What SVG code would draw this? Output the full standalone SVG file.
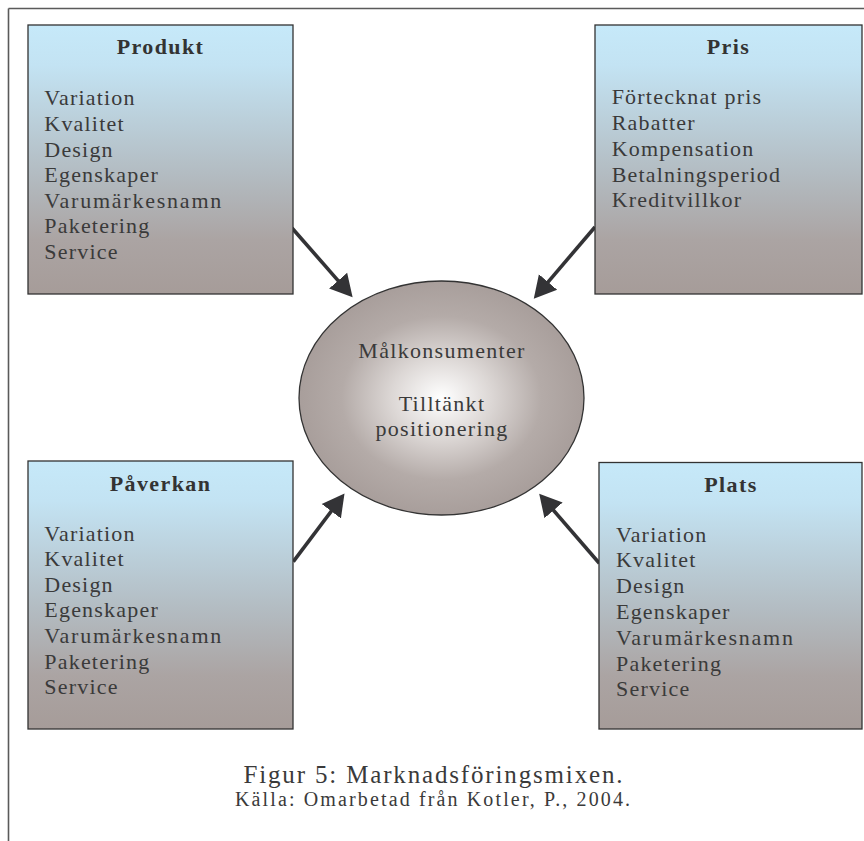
<svg xmlns="http://www.w3.org/2000/svg" width="864" height="841" viewBox="0 0 864 841">
  <defs>
    <linearGradient id="boxFill" x1="0" y1="0" x2="0" y2="1">
      <stop offset="0" stop-color="#c6e9f9"/>
      <stop offset="0.15" stop-color="#c3e3f3"/>
      <stop offset="0.55" stop-color="#b3bcc2"/>
      <stop offset="0.8" stop-color="#aba4a3"/>
      <stop offset="1" stop-color="#a69c99"/>
    </linearGradient>
    <radialGradient id="coreFill" cx="0.5" cy="0.5" r="0.5">
      <stop offset="0" stop-color="#ffffff"/>
      <stop offset="0.35" stop-color="#dcd7d5"/>
      <stop offset="0.7" stop-color="#b4aba8"/>
      <stop offset="1" stop-color="#a89e9b"/>
    </radialGradient>
    <marker id="arrow" markerUnits="userSpaceOnUse" markerWidth="26" markerHeight="26" viewBox="0 -13 26 26" refX="5" refY="0" orient="auto">
      <path d="M0,-12 L22,0 L0,12 z" fill="#333336"/>
    </marker>
  </defs>
  <style>
    .frame { stroke: #5a5a5a; stroke-width: 1.6; fill: none; }
    .box { fill: url(#boxFill); stroke: #333; stroke-width: 1.3; }
    .core { fill: url(#coreFill); stroke: #333; stroke-width: 1.3; }
    .title { font-family: "Liberation Serif", "Times New Roman", serif; font-size: 22px; font-weight: bold; fill: #333; letter-spacing: 1.4px; text-anchor: middle; }
    .item { font-family: "Liberation Serif", "Times New Roman", serif; font-size: 22px; fill: #3a3a3a; letter-spacing: 1.2px; }
    .center { font-family: "Liberation Serif", "Times New Roman", serif; font-size: 22px; fill: #3a3a3a; letter-spacing: 1.3px; text-anchor: middle; }
    .cap1 { font-family: "Liberation Serif", "Times New Roman", serif; font-size: 25px; fill: #3a3a3a; }
    .cap2 { font-family: "Liberation Serif", "Times New Roman", serif; font-size: 20px; fill: #3a3a3a; }
    .link { stroke: #333336; stroke-width: 3.6; fill: none; marker-end: url(#arrow); }
  </style>

  <!-- page frame -->
  <path class="frame" d="M8.5,8.5 H864 M8.5,8.5 V841"/>

  <!-- connectors -->
  <g id="connectors">
    <line class="link" x1="292" y1="228" x2="341.4" y2="284.4"/>
    <line class="link" x1="595" y1="227" x2="544.8" y2="285.8"/>
    <line class="link" x1="293.3" y1="561.7" x2="334.3" y2="507.2"/>
    <line class="link" x1="599.3" y1="563.3" x2="550.3" y2="506.6"/>
  </g>

  <!-- centre: target consumers -->
  <g id="core">
    <ellipse class="core" cx="441.5" cy="398" rx="142.5" ry="117"/>
    <text class="center" x="442" y="357.7">Målkonsumenter</text>
    <text class="center" x="442" y="410.7">Tilltänkt</text>
    <text class="center" x="442" y="436">positionering</text>
  </g>

  <!-- Produkt -->
  <g id="produkt">
    <rect class="box" x="28" y="25" width="265" height="269"/>
    <text class="title" x="160.5" y="54">Produkt</text>
    <text class="item" x="44.3" y="105">Variation</text>
    <text class="item" x="44.3" y="131">Kvalitet</text>
    <text class="item" x="44.3" y="157">Design</text>
    <text class="item" x="44.3" y="182">Egenskaper</text>
    <text class="item" x="44.3" y="208" style="letter-spacing:0" textLength="177">Varumärkesnamn</text>
    <text class="item" x="44.3" y="233">Paketering</text>
    <text class="item" x="44.3" y="259">Service</text>
  </g>

  <!-- Pris -->
  <g id="pris">
    <rect class="box" x="595" y="25" width="267" height="269"/>
    <text class="title" x="728.5" y="54">Pris</text>
    <text class="item" x="611.7" y="104">Förtecknat pris</text>
    <text class="item" x="611.7" y="130">Rabatter</text>
    <text class="item" x="611.7" y="156">Kompensation</text>
    <text class="item" x="611.7" y="182">Betalningsperiod</text>
    <text class="item" x="611.7" y="207">Kreditvillkor</text>
  </g>

  <!-- Påverkan -->
  <g id="paverkan">
    <rect class="box" x="28" y="461" width="265" height="268"/>
    <text class="title" x="160.5" y="491">Påverkan</text>
    <text class="item" x="44.3" y="541">Variation</text>
    <text class="item" x="44.3" y="566">Kvalitet</text>
    <text class="item" x="44.3" y="592">Design</text>
    <text class="item" x="44.3" y="617">Egenskaper</text>
    <text class="item" x="44.3" y="643" style="letter-spacing:0" textLength="177">Varumärkesnamn</text>
    <text class="item" x="44.3" y="669">Paketering</text>
    <text class="item" x="44.3" y="694">Service</text>
  </g>

  <!-- Plats -->
  <g id="plats">
    <rect class="box" x="599" y="462.5" width="263" height="266.5"/>
    <text class="title" x="731" y="492">Plats</text>
    <text class="item" x="616" y="542">Variation</text>
    <text class="item" x="616" y="567">Kvalitet</text>
    <text class="item" x="616" y="593">Design</text>
    <text class="item" x="616" y="619">Egenskaper</text>
    <text class="item" x="616" y="645" style="letter-spacing:0" textLength="177">Varumärkesnamn</text>
    <text class="item" x="616" y="671">Paketering</text>
    <text class="item" x="616" y="696">Service</text>
  </g>

  <!-- caption -->
  <g id="caption">
    <text class="cap1" x="243.5" y="783" textLength="379">Figur 5: Marknadsföringsmixen.</text>
    <text class="cap2" x="235" y="806" textLength="395">Källa: Omarbetad från Kotler, P., 2004.</text>
  </g>
</svg>
